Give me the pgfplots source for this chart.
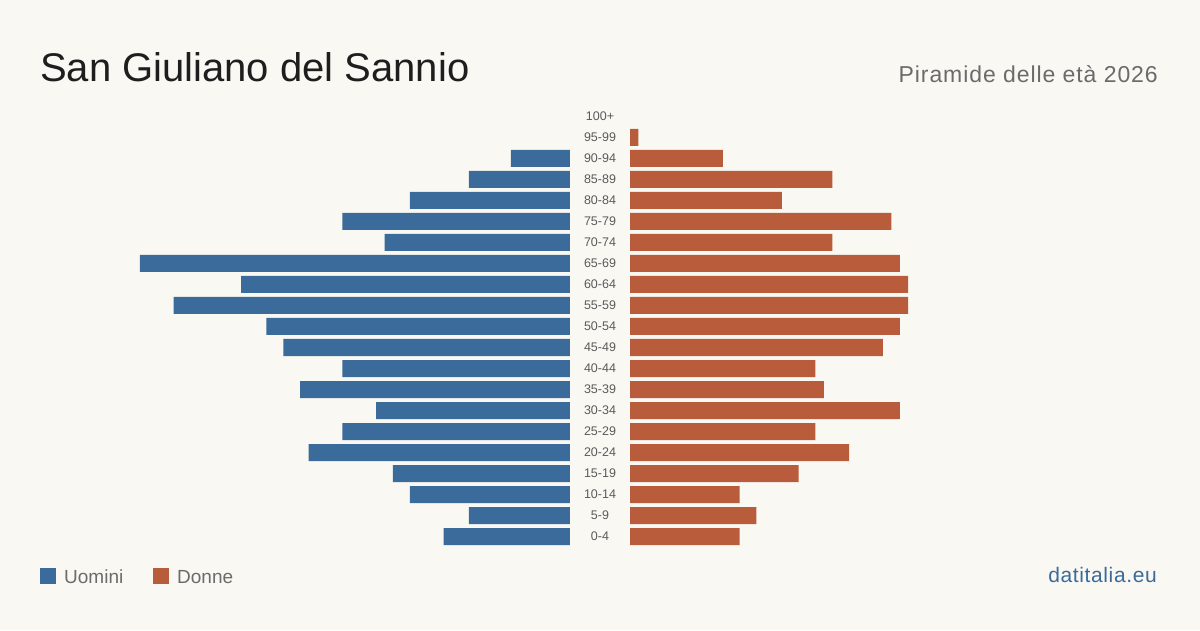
\documentclass[border=0pt]{standalone}
\usepackage{pgfplots}
\pgfplotsset{compat=1.18}
\usepackage{fontspec}
\setmainfont{Liberation Sans}
\newfontfamily\subfont[LetterSpace=4]{Liberation Sans}
\newfontfamily\srcfont[LetterSpace=3]{Liberation Sans}
\definecolor{bg}{HTML}{F9F8F3}
\definecolor{uomini}{HTML}{3A6B9B}
\definecolor{donne}{HTML}{B95C3C}
\definecolor{titlecol}{HTML}{1E1E1E}
\definecolor{subcol}{HTML}{6B6B6B}
\definecolor{labcol}{HTML}{5A5A5A}

% age classes 0-4 (row 0) ... 100+ (row 20)
\pgfplotstableread{
row val
0 15
1 12
2 19
3 21
4 31
5 27
6 23
7 32
8 27
9 34
10 36
11 47
12 39
13 51
14 22
15 27
16 19
17 12
18 7
19 0
20 0
}\uomini
\pgfplotstableread{
row val
0 13
1 15
2 13
3 20
4 26
5 22
6 32
7 23
8 22
9 30
10 32
11 33
12 33
13 32
14 24
15 31
16 18
17 24
18 11
19 1
20 0
}\donne

\begin{document}
\begin{tikzpicture}[x=1pt,y=1pt]
\fill[bg] (0,0) rectangle (1200,630);

\pgfplotsset{
  pyr/.style={
    scale only axis, width=430pt, height=441pt,
    xmin=0, xmax=51, ymin=-0.5, ymax=20.5,
    xbar, bar width=17pt,
    axis line style={draw=none},
    major tick length=0pt,
    xtick=\empty,
    clip=false,
    % empty classes get no bar at all
    unbounded coords=discard,
    x filter/.expression={x==0 ? nan : x},
  }
}

% men, growing to the left
\begin{axis}[pyr, x dir=reverse, at={(140pt,83pt)}, anchor=south west, ytick=\empty]
  \addplot[draw=none, fill=uomini] table[x=val, y=row] {\uomini};
\end{axis}

% women, growing to the right; age labels sit in the central gap
\begin{axis}[pyr, at={(630pt,83pt)}, anchor=south west,
  ytick={0,...,20},
  yticklabels={0-4,5-9,10-14,15-19,20-24,25-29,30-34,35-39,40-44,45-49,50-54,55-59,60-64,65-69,70-74,75-79,80-84,85-89,90-94,95-99,100+},
  yticklabel style={anchor=center, xshift=-30pt, inner sep=0pt,
    font=\fontsize{12.5}{14}\selectfont, text=labcol}]
  \addplot[draw=none, fill=donne] table[x=val, y=row] {\donne};
\end{axis}

% titles
\node[anchor=base west, inner sep=0pt, text=titlecol, font=\fontsize{40}{48}\selectfont] at (40,548) {San Giuliano del Sannio};
\node[anchor=base east, inner sep=0pt, text=subcol, font=\subfont\fontsize{23}{27}\selectfont] at (1158,547) {Piramide delle età 2026};

% legend
\fill[uomini] (40,46) rectangle (56,62);
\node[anchor=base west, inner sep=0pt, text=subcol, font=\fontsize{19}{22}\selectfont] at (64,47) {Uomini};
\fill[donne] (153,46) rectangle (169,62);
\node[anchor=base west, inner sep=0pt, text=subcol, font=\fontsize{19}{22}\selectfont] at (177,47) {Donne};

% source
\node[anchor=base east, inner sep=0pt, text=uomini, font=\srcfont\fontsize{21}{24}\selectfont] at (1157,48) {datitalia.eu};
\end{tikzpicture}
\end{document}
